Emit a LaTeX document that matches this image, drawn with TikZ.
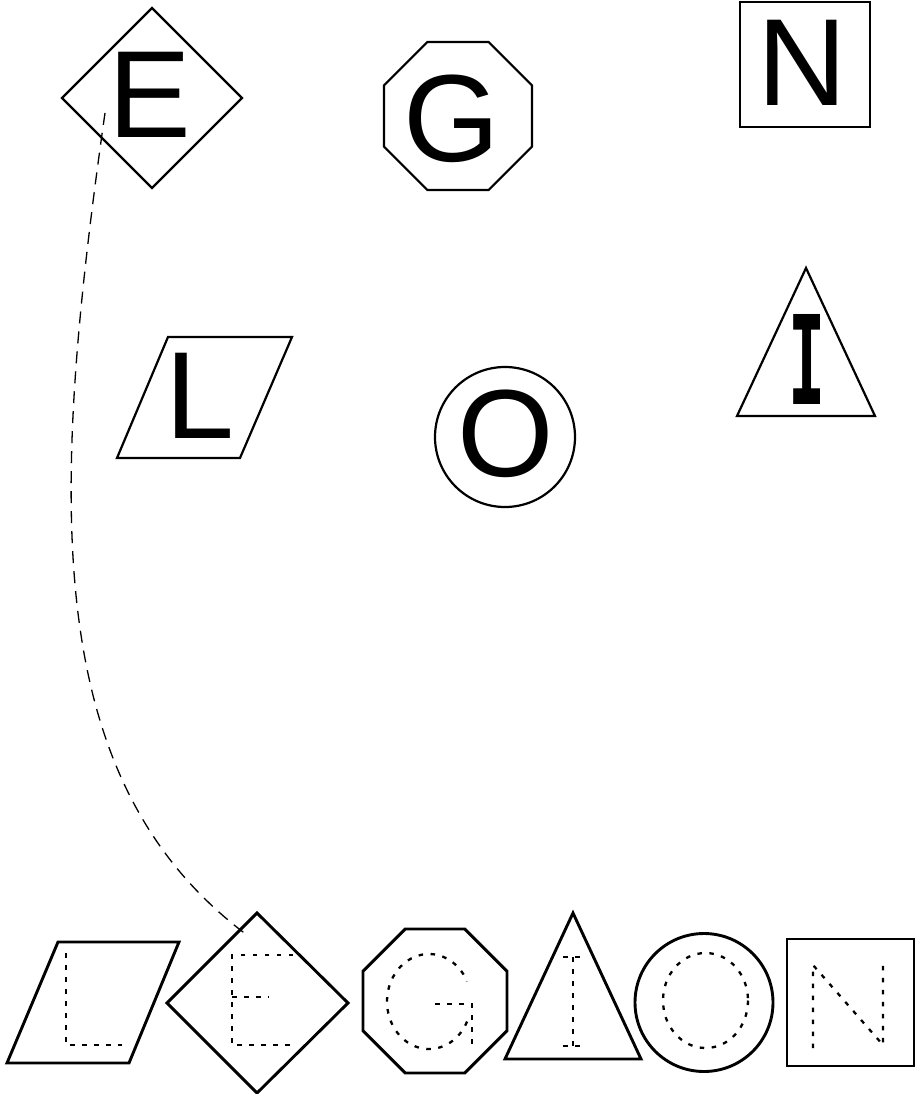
\documentclass[tikz,border=0pt]{standalone}
\usepackage{fontspec}
\setmainfont{Liberation Sans}
\newfontfamily\letterImono{DejaVu Sans Mono}
\usetikzlibrary{calc}
\tikzset{
  bigshape/.style={draw=black, line width=2.2pt, line join=miter},
  smallshape/.style={draw=black, line width=2.9pt, line join=miter},
  trace/.style={draw=black, line width=2.3pt, dash pattern=on 4.5pt off 7.5pt},
  biglet/.style={inner sep=0pt, outer sep=0pt, font=\fontsize{124pt}{124pt}\selectfont},
  link/.style={draw=black, line width=1.3pt, dash pattern=on 12pt off 8pt},
}
\begin{document}
\begin{tikzpicture}[x=1pt, y=-1pt]
\useasboundingbox (0,0) rectangle (915,1094);
% ---------- top row ----------
% E diamond
\draw[bigshape] (62,98) -- (152,8) -- (242,98) -- (152,188) -- cycle;
\node[biglet] (E1) at (150,95) {E};
% G octagon
\draw[bigshape, shift={(458,116)}] (22.5:80.1)
  \foreach \a in {67.5,112.5,...,337.5}{ -- (\a:80.1)} -- cycle;
\node[biglet] (G1) at (452,119) {G};
% N rectangle
\draw[bigshape] (740,2) rectangle (870,127);
\node[biglet] (N1) at (802,63) {N};
% L parallelogram
\draw[bigshape] (168,337) -- (292,337) -- (240,458) -- (117,458) -- cycle;
\node[biglet] (L1) at (200,395.5) {L};
% O circle
\draw[bigshape] (505,437) circle [radius=70];
\node[biglet] (O1) at (505.5,433.5) {O};
% I triangle
\draw[bigshape] (806,268) -- (875,416) -- (737,416) -- cycle;
\node[inner sep=0pt, outer sep=0pt] (I1) at (807,359)
  {\scalebox{0.5}[1]{\letterImono\bfseries\fontsize{123.5pt}{123.5pt}\selectfont I}};
% ---------- bottom row ----------
% L
\draw[smallshape] (58,942) -- (179,942) -- (129,1063) -- (7,1063) -- cycle;
\draw[trace] (66,953) -- (66,1045) -- (122,1045);
% E
\draw[smallshape] (167,1003) -- (257,913) -- (348,1003) -- (257,1093) -- cycle;
\draw[trace] (293,955) -- (232,955) -- (232,1045) -- (293,1045);
\draw[trace] (232,997) -- (269,997);
% G
\draw[smallshape, shift={(435,1001)}] (22.5:77.9)
  \foreach \a in {67.5,112.5,...,337.5}{ -- (\a:77.9)} -- cycle;
\draw[trace] ($(429,1001.5)+(25:42 and 47.5)$) arc[start angle=25, end angle=335, x radius=42, y radius=47.5];
\draw[trace] (435,1004) -- (472,1004) -- (472,1047);
% I
\draw[smallshape] (573,913) -- (641,1059) -- (505,1059) -- cycle;
\draw[trace] (563,957) -- (583,957);
\draw[trace] (573,957) -- (573,1046);
\draw[trace] (563,1046) -- (583,1046);
% O
\draw[smallshape] (704,1002.5) circle [radius=69];
\draw[trace] (705.5,1000.5) ellipse [x radius=42.5, y radius=47.5];
% N
\draw[smallshape] (787,939) rectangle (914,1066);
\draw[trace] (813,1048) -- (813,965) -- (883,1045) -- (883,960);
% ---------- connector ----------
\coordinate (cs) at (105,113);
\coordinate (ce) at (247,935);
\draw[link] (cs) .. controls (50,500) and (40,780) .. (ce);
\end{tikzpicture}
\end{document}
